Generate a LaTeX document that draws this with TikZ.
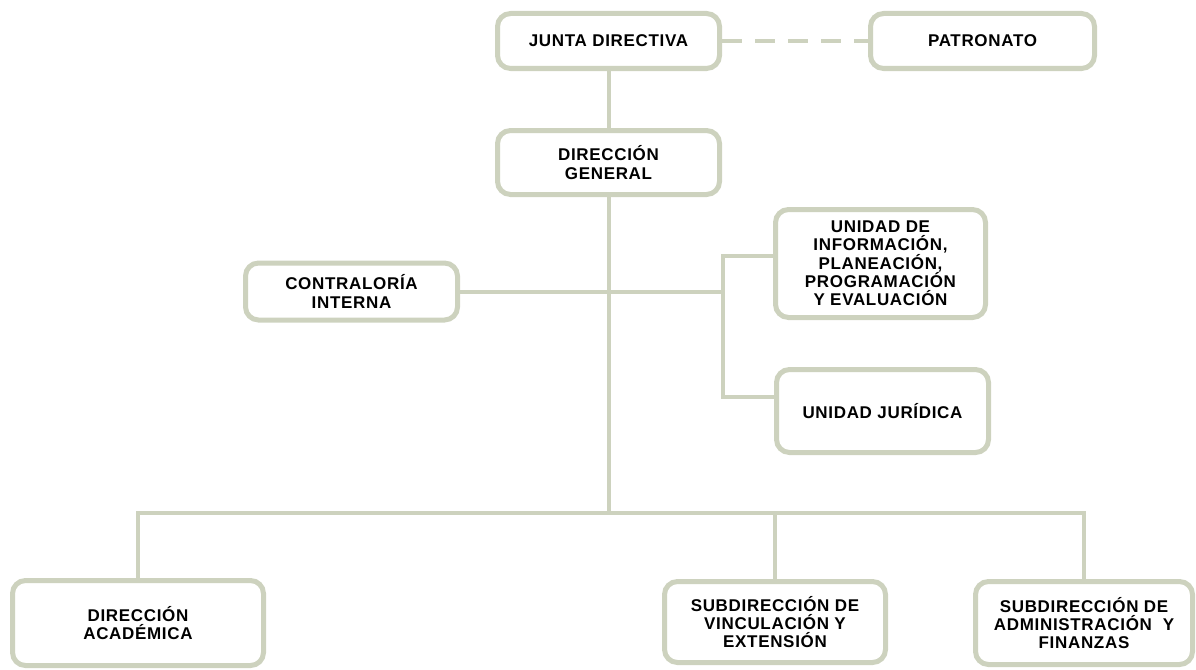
\documentclass[tikz,border=0pt]{standalone}
\usepackage{fontspec}
\setmainfont{Liberation Sans}[LetterSpace=4]
\definecolor{sage}{RGB}{205,210,190}
\begin{document}
\begin{tikzpicture}[x=1pt,y=-1pt,
  box/.style={draw=sage, line width=5pt, rounded corners=13pt, fill=white,
    inner sep=0pt, align=center, font=\fontsize{17}{18.3}\selectfont\bfseries,
    text=black},
  link/.style={draw=sage, line width=4pt},
  dlink/.style={draw=sage, line width=4pt, dash pattern=on 20pt off 13pt}]
\useasboundingbox (0,0) rectangle (1196,669);
\node[box, minimum width=222pt, minimum height=55pt] (jd) at (608.5,41) {JUNTA DIRECTIVA};
\node[box, minimum width=224pt, minimum height=55pt] (pat) at (982.5,41) {PATRONATO};
\node[box, minimum width=222pt, minimum height=64pt] (dg) at (608.5,162.5) {DIRECCIÓN\\GENERAL};
\node[box, minimum width=212pt, minimum height=57pt] (ci) at (351.5,291.5) {CONTRALORÍA\\INTERNA};
\node[box, minimum width=210pt, minimum height=108pt] (ui) at (880.5,263.5) {UNIDAD DE\\INFORMACIÓN,\\PLANEACIÓN,\\PROGRAMACIÓN\\Y EVALUACIÓN};
\node[box, minimum width=212pt, minimum height=83pt] (uj) at (882.5,411) {UNIDAD JURÍDICA};
\node[box, minimum width=251pt, minimum height=85pt] (da) at (138,623) {DIRECCIÓN\\ACADÉMICA};
\node[box, minimum width=221pt, minimum height=81pt] (sve) at (775,622) {SUBDIRECCIÓN DE\\VINCULACIÓN Y\\EXTENSIÓN};
\node[box, minimum width=217pt, minimum height=83pt] (saf) at (1084,623) {SUBDIRECCIÓN DE\\ADMINISTRACIÓN\ \ Y\\FINANZAS};
\coordinate (bus) at (608.5,513);
\coordinate (bend) at (608.5,515);
\coordinate (brt) at (723,256);
\coordinate (brb) at (723,397);
\draw[dlink] (jd.east) -- (pat.west);
\draw[link] (jd.south) -- (dg.north);
\draw[link] (dg.south) -- (bend);
\draw[link] (ci.east) -- (ci.east -| brt);
\draw[link, line cap=rect] (brt -| ui.west) -- (brt) -- (brb) -- (brb -| uj.west);
\draw[link] (da.north) |- (bus) -| (saf.north);
\draw[link] (sve.north) -- (sve.north |- bus);
\end{tikzpicture}
\end{document}
